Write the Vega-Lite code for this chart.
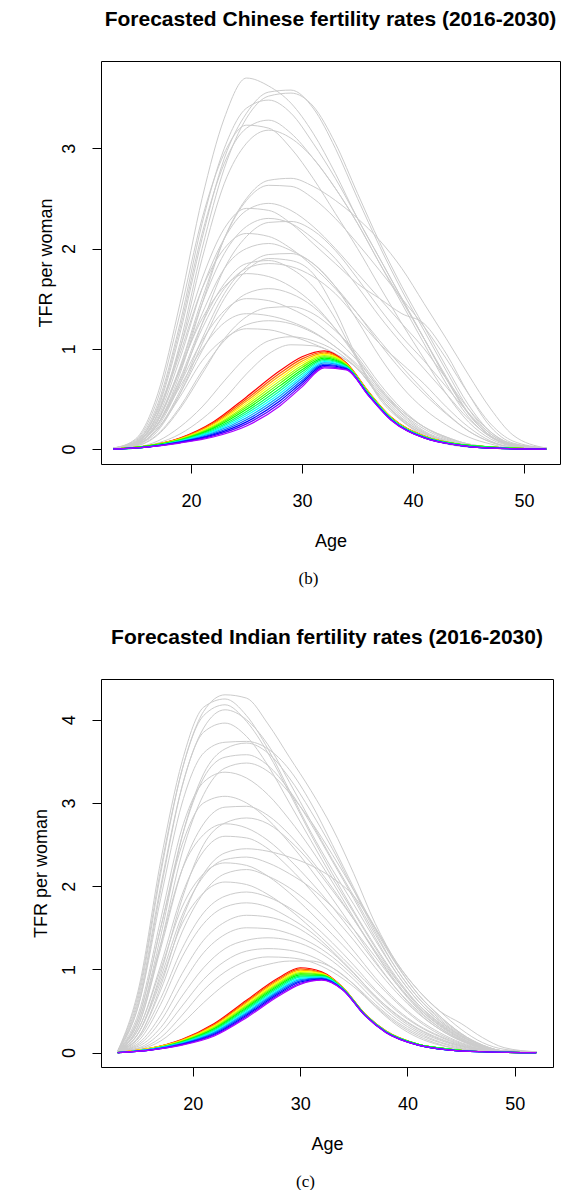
{"$schema":"https://vega.github.io/schema/vega-lite/v6.json","background":"white","padding":{"left":31,"top":8,"right":0,"bottom":0},"spacing":39,"columns":1,
"config":{"font":"Liberation Sans","view":{"stroke":"black","strokeWidth":1},
"axis":{"grid":false,"domain":false,"tickColor":"black","tickWidth":1,"tickSize":9,"labelFont":"Liberation Sans","labelFontSize":18,"labelColor":"black","labelFlush":false,"labelOverlap":false,"titleFont":"Liberation Sans","titleFontSize":18,"titleFontWeight":"normal","titleColor":"black"},
"axisX":{"labelPadding":19,"titlePadding":22,"labelAngle":0},
"axisY":{"labelAngle":-90,"labelAlign":"center","labelBaseline":"bottom","labelPadding":14,"titlePadding":5,"format":"d"},
"title":{"font":"Liberation Sans","fontSize":21,"fontWeight":"bold","color":"black"}},
"datasets":{
"cg":[
{"s":1,"a":13,"v":0.01},{"s":1,"a":15,"v":0.1},{"s":1,"a":17,"v":0.55},{"s":1,"a":19,"v":1.45},{"s":1,"a":21,"v":2.5},{"s":1,"a":23,"v":3.3},{"s":1,"a":25,"v":3.7},{"s":1,"a":27,"v":3.62},{"s":1,"a":29,"v":3.45},{"s":1,"a":31,"v":3.15},{"s":1,"a":33,"v":2.75},{"s":1,"a":35,"v":2.3},{"s":1,"a":37,"v":1.9},{"s":1,"a":39,"v":1.5},{"s":1,"a":41,"v":1.1},{"s":1,"a":43,"v":0.7},{"s":1,"a":45,"v":0.35},{"s":1,"a":47,"v":0.13},{"s":1,"a":49,"v":0.04},{"s":1,"a":52,"v":0.01},
{"s":2,"a":13,"v":0.01},{"s":2,"a":15,"v":0.07},{"s":2,"a":17,"v":0.4},{"s":2,"a":19,"v":1.15},{"s":2,"a":21,"v":2.1},{"s":2,"a":23,"v":2.9},{"s":2,"a":25,"v":3.35},{"s":2,"a":27,"v":3.56},{"s":2,"a":29,"v":3.58},{"s":2,"a":31,"v":3.4},{"s":2,"a":33,"v":3.0},{"s":2,"a":35,"v":2.5},{"s":2,"a":37,"v":2.02},{"s":2,"a":39,"v":1.58},{"s":2,"a":41,"v":1.18},{"s":2,"a":43,"v":0.78},{"s":2,"a":45,"v":0.4},{"s":2,"a":47,"v":0.15},{"s":2,"a":49,"v":0.05},{"s":2,"a":52,"v":0.01},
{"s":3,"a":13,"v":0.01},{"s":3,"a":15,"v":0.06},{"s":3,"a":17,"v":0.35},{"s":3,"a":19,"v":1.05},{"s":3,"a":21,"v":2.0},{"s":3,"a":23,"v":2.8},{"s":3,"a":25,"v":3.3},{"s":3,"a":27,"v":3.52},{"s":3,"a":29,"v":3.55},{"s":3,"a":31,"v":3.42},{"s":3,"a":33,"v":3.05},{"s":3,"a":35,"v":2.55},{"s":3,"a":37,"v":2.06},{"s":3,"a":39,"v":1.62},{"s":3,"a":41,"v":1.22},{"s":3,"a":43,"v":0.82},{"s":3,"a":45,"v":0.44},{"s":3,"a":47,"v":0.17},{"s":3,"a":49,"v":0.05},{"s":3,"a":52,"v":0.01},
{"s":4,"a":13,"v":0.01},{"s":4,"a":15,"v":0.08},{"s":4,"a":17,"v":0.45},{"s":4,"a":19,"v":1.25},{"s":4,"a":21,"v":2.25},{"s":4,"a":23,"v":3.0},{"s":4,"a":25,"v":3.4},{"s":4,"a":27,"v":3.48},{"s":4,"a":29,"v":3.35},{"s":4,"a":31,"v":3.05},{"s":4,"a":33,"v":2.7},{"s":4,"a":35,"v":2.3},{"s":4,"a":37,"v":1.9},{"s":4,"a":39,"v":1.5},{"s":4,"a":41,"v":1.1},{"s":4,"a":43,"v":0.7},{"s":4,"a":45,"v":0.35},{"s":4,"a":47,"v":0.13},{"s":4,"a":49,"v":0.04},{"s":4,"a":52,"v":0.01},
{"s":5,"a":13,"v":0.01},{"s":5,"a":15,"v":0.07},{"s":5,"a":17,"v":0.42},{"s":5,"a":19,"v":1.2},{"s":5,"a":21,"v":2.15},{"s":5,"a":23,"v":2.85},{"s":5,"a":25,"v":3.2},{"s":5,"a":27,"v":3.28},{"s":5,"a":29,"v":3.15},{"s":5,"a":31,"v":2.9},{"s":5,"a":33,"v":2.6},{"s":5,"a":35,"v":2.25},{"s":5,"a":37,"v":1.85},{"s":5,"a":39,"v":1.45},{"s":5,"a":41,"v":1.05},{"s":5,"a":43,"v":0.65},{"s":5,"a":45,"v":0.32},{"s":5,"a":47,"v":0.12},{"s":5,"a":49,"v":0.04},{"s":5,"a":52,"v":0.01},
{"s":6,"a":13,"v":0.01},{"s":6,"a":15,"v":0.09},{"s":6,"a":17,"v":0.5},{"s":6,"a":19,"v":1.35},{"s":6,"a":21,"v":2.3},{"s":6,"a":23,"v":2.95},{"s":6,"a":25,"v":3.23},{"s":6,"a":27,"v":3.2},{"s":6,"a":29,"v":3.0},{"s":6,"a":31,"v":2.7},{"s":6,"a":33,"v":2.35},{"s":6,"a":35,"v":2.0},{"s":6,"a":37,"v":1.62},{"s":6,"a":39,"v":1.25},{"s":6,"a":41,"v":0.9},{"s":6,"a":43,"v":0.55},{"s":6,"a":45,"v":0.27},{"s":6,"a":47,"v":0.1},{"s":6,"a":49,"v":0.03},{"s":6,"a":52,"v":0.01},
{"s":7,"a":13,"v":0.01},{"s":7,"a":15,"v":0.06},{"s":7,"a":17,"v":0.35},{"s":7,"a":19,"v":1.0},{"s":7,"a":21,"v":1.9},{"s":7,"a":23,"v":2.65},{"s":7,"a":25,"v":3.05},{"s":7,"a":27,"v":3.18},{"s":7,"a":29,"v":3.1},{"s":7,"a":31,"v":2.9},{"s":7,"a":33,"v":2.6},{"s":7,"a":35,"v":2.25},{"s":7,"a":37,"v":1.85},{"s":7,"a":39,"v":1.48},{"s":7,"a":41,"v":1.1},{"s":7,"a":43,"v":0.72},{"s":7,"a":45,"v":0.36},{"s":7,"a":47,"v":0.13},{"s":7,"a":49,"v":0.04},{"s":7,"a":52,"v":0.01},
{"s":8,"a":13,"v":0.01},{"s":8,"a":15,"v":0.05},{"s":8,"a":17,"v":0.25},{"s":8,"a":19,"v":0.75},{"s":8,"a":21,"v":1.45},{"s":8,"a":23,"v":2.1},{"s":8,"a":25,"v":2.5},{"s":8,"a":27,"v":2.68},{"s":8,"a":29,"v":2.7},{"s":8,"a":31,"v":2.62},{"s":8,"a":33,"v":2.48},{"s":8,"a":35,"v":2.3},{"s":8,"a":37,"v":2.08},{"s":8,"a":39,"v":1.8},{"s":8,"a":41,"v":1.45},{"s":8,"a":43,"v":1.1},{"s":8,"a":45,"v":0.74},{"s":8,"a":47,"v":0.4},{"s":8,"a":49,"v":0.14},{"s":8,"a":52,"v":0.01},
{"s":9,"a":13,"v":0.01},{"s":9,"a":15,"v":0.05},{"s":9,"a":17,"v":0.28},{"s":9,"a":19,"v":0.82},{"s":9,"a":21,"v":1.5},{"s":9,"a":23,"v":2.1},{"s":9,"a":25,"v":2.48},{"s":9,"a":27,"v":2.63},{"s":9,"a":29,"v":2.62},{"s":9,"a":31,"v":2.5},{"s":9,"a":33,"v":2.3},{"s":9,"a":35,"v":2.05},{"s":9,"a":37,"v":1.78},{"s":9,"a":39,"v":1.5},{"s":9,"a":41,"v":1.22},{"s":9,"a":43,"v":0.9},{"s":9,"a":45,"v":0.55},{"s":9,"a":47,"v":0.25},{"s":9,"a":49,"v":0.08},{"s":9,"a":52,"v":0.01},
{"s":10,"a":13,"v":0.01},{"s":10,"a":15,"v":0.06},{"s":10,"a":17,"v":0.32},{"s":10,"a":19,"v":0.9},{"s":10,"a":21,"v":1.6},{"s":10,"a":23,"v":2.1},{"s":10,"a":25,"v":2.38},{"s":10,"a":27,"v":2.45},{"s":10,"a":29,"v":2.38},{"s":10,"a":31,"v":2.22},{"s":10,"a":33,"v":2.0},{"s":10,"a":35,"v":1.75},{"s":10,"a":37,"v":1.5},{"s":10,"a":39,"v":1.25},{"s":10,"a":41,"v":1.0},{"s":10,"a":43,"v":0.7},{"s":10,"a":45,"v":0.4},{"s":10,"a":47,"v":0.17},{"s":10,"a":49,"v":0.05},{"s":10,"a":52,"v":0.01},
{"s":11,"a":13,"v":0.01},{"s":11,"a":15,"v":0.07},{"s":11,"a":17,"v":0.38},{"s":11,"a":19,"v":1.0},{"s":11,"a":21,"v":1.7},{"s":11,"a":23,"v":2.2},{"s":11,"a":25,"v":2.4},{"s":11,"a":27,"v":2.38},{"s":11,"a":29,"v":2.25},{"s":11,"a":31,"v":2.05},{"s":11,"a":33,"v":1.85},{"s":11,"a":35,"v":1.65},{"s":11,"a":37,"v":1.5},{"s":11,"a":39,"v":1.35},{"s":11,"a":41,"v":1.25},{"s":11,"a":43,"v":0.95},{"s":11,"a":45,"v":0.55},{"s":11,"a":47,"v":0.22},{"s":11,"a":49,"v":0.06},{"s":11,"a":52,"v":0.01},
{"s":12,"a":13,"v":0.01},{"s":12,"a":15,"v":0.05},{"s":12,"a":17,"v":0.28},{"s":12,"a":19,"v":0.8},{"s":12,"a":21,"v":1.45},{"s":12,"a":23,"v":1.95},{"s":12,"a":25,"v":2.22},{"s":12,"a":27,"v":2.3},{"s":12,"a":29,"v":2.25},{"s":12,"a":31,"v":2.1},{"s":12,"a":33,"v":1.9},{"s":12,"a":35,"v":1.62},{"s":12,"a":37,"v":1.32},{"s":12,"a":39,"v":1.05},{"s":12,"a":41,"v":0.8},{"s":12,"a":43,"v":0.55},{"s":12,"a":45,"v":0.3},{"s":12,"a":47,"v":0.12},{"s":12,"a":49,"v":0.03},{"s":12,"a":52,"v":0.01},
{"s":13,"a":13,"v":0.01},{"s":13,"a":15,"v":0.04},{"s":13,"a":17,"v":0.22},{"s":13,"a":19,"v":0.65},{"s":13,"a":21,"v":1.25},{"s":13,"a":23,"v":1.8},{"s":13,"a":25,"v":2.12},{"s":13,"a":27,"v":2.26},{"s":13,"a":29,"v":2.27},{"s":13,"a":31,"v":2.18},{"s":13,"a":33,"v":1.98},{"s":13,"a":35,"v":1.7},{"s":13,"a":37,"v":1.4},{"s":13,"a":39,"v":1.12},{"s":13,"a":41,"v":0.88},{"s":13,"a":43,"v":0.62},{"s":13,"a":45,"v":0.36},{"s":13,"a":47,"v":0.15},{"s":13,"a":49,"v":0.04},{"s":13,"a":52,"v":0.01},
{"s":14,"a":13,"v":0.01},{"s":14,"a":15,"v":0.06},{"s":14,"a":17,"v":0.35},{"s":14,"a":19,"v":0.95},{"s":14,"a":21,"v":1.6},{"s":14,"a":23,"v":2.0},{"s":14,"a":25,"v":2.15},{"s":14,"a":27,"v":2.12},{"s":14,"a":29,"v":2.0},{"s":14,"a":31,"v":1.82},{"s":14,"a":33,"v":1.6},{"s":14,"a":35,"v":1.35},{"s":14,"a":37,"v":1.08},{"s":14,"a":39,"v":0.82},{"s":14,"a":41,"v":0.58},{"s":14,"a":43,"v":0.36},{"s":14,"a":45,"v":0.18},{"s":14,"a":47,"v":0.07},{"s":14,"a":49,"v":0.02},{"s":14,"a":52,"v":0.01},
{"s":15,"a":13,"v":0.01},{"s":15,"a":15,"v":0.05},{"s":15,"a":17,"v":0.28},{"s":15,"a":19,"v":0.78},{"s":15,"a":21,"v":1.35},{"s":15,"a":23,"v":1.8},{"s":15,"a":25,"v":2.0},{"s":15,"a":27,"v":2.05},{"s":15,"a":29,"v":1.98},{"s":15,"a":31,"v":1.85},{"s":15,"a":33,"v":1.62},{"s":15,"a":35,"v":1.35},{"s":15,"a":37,"v":1.05},{"s":15,"a":39,"v":0.78},{"s":15,"a":41,"v":0.55},{"s":15,"a":43,"v":0.35},{"s":15,"a":45,"v":0.18},{"s":15,"a":47,"v":0.07},{"s":15,"a":49,"v":0.02},{"s":15,"a":52,"v":0.01},
{"s":16,"a":13,"v":0.01},{"s":16,"a":15,"v":0.04},{"s":16,"a":17,"v":0.2},{"s":16,"a":19,"v":0.58},{"s":16,"a":21,"v":1.1},{"s":16,"a":23,"v":1.55},{"s":16,"a":25,"v":1.82},{"s":16,"a":27,"v":1.94},{"s":16,"a":29,"v":1.95},{"s":16,"a":31,"v":1.85},{"s":16,"a":33,"v":1.62},{"s":16,"a":35,"v":1.28},{"s":16,"a":37,"v":0.92},{"s":16,"a":39,"v":0.62},{"s":16,"a":41,"v":0.4},{"s":16,"a":43,"v":0.24},{"s":16,"a":45,"v":0.12},{"s":16,"a":47,"v":0.05},{"s":16,"a":49,"v":0.01},{"s":16,"a":52,"v":0.01},
{"s":17,"a":13,"v":0.01},{"s":17,"a":15,"v":0.04},{"s":17,"a":17,"v":0.18},{"s":17,"a":19,"v":0.55},{"s":17,"a":21,"v":1.05},{"s":17,"a":23,"v":1.5},{"s":17,"a":25,"v":1.78},{"s":17,"a":27,"v":1.9},{"s":17,"a":29,"v":1.88},{"s":17,"a":31,"v":1.75},{"s":17,"a":33,"v":1.38},{"s":17,"a":35,"v":0.9},{"s":17,"a":37,"v":0.52},{"s":17,"a":39,"v":0.3},{"s":17,"a":41,"v":0.16},{"s":17,"a":43,"v":0.08},{"s":17,"a":45,"v":0.03},{"s":17,"a":47,"v":0.01},{"s":17,"a":49,"v":0},{"s":17,"a":52,"v":0},
{"s":18,"a":13,"v":0.01},{"s":18,"a":15,"v":0.05},{"s":18,"a":17,"v":0.25},{"s":18,"a":19,"v":0.7},{"s":18,"a":21,"v":1.25},{"s":18,"a":23,"v":1.65},{"s":18,"a":25,"v":1.85},{"s":18,"a":27,"v":1.88},{"s":18,"a":29,"v":1.8},{"s":18,"a":31,"v":1.62},{"s":18,"a":33,"v":1.3},{"s":18,"a":35,"v":0.88},{"s":18,"a":37,"v":0.5},{"s":18,"a":39,"v":0.28},{"s":18,"a":41,"v":0.15},{"s":18,"a":43,"v":0.07},{"s":18,"a":45,"v":0.03},{"s":18,"a":47,"v":0.01},{"s":18,"a":49,"v":0},{"s":18,"a":52,"v":0},
{"s":19,"a":13,"v":0.01},{"s":19,"a":15,"v":0.05},{"s":19,"a":17,"v":0.24},{"s":19,"a":19,"v":0.68},{"s":19,"a":21,"v":1.2},{"s":19,"a":23,"v":1.6},{"s":19,"a":25,"v":1.8},{"s":19,"a":27,"v":1.85},{"s":19,"a":29,"v":1.82},{"s":19,"a":31,"v":1.72},{"s":19,"a":33,"v":1.55},{"s":19,"a":35,"v":1.3},{"s":19,"a":37,"v":1.05},{"s":19,"a":39,"v":0.85},{"s":19,"a":41,"v":0.65},{"s":19,"a":43,"v":0.42},{"s":19,"a":45,"v":0.22},{"s":19,"a":47,"v":0.08},{"s":19,"a":49,"v":0.02},{"s":19,"a":52,"v":0.01},
{"s":20,"a":13,"v":0.01},{"s":20,"a":15,"v":0.06},{"s":20,"a":17,"v":0.3},{"s":20,"a":19,"v":0.8},{"s":20,"a":21,"v":1.3},{"s":20,"a":23,"v":1.62},{"s":20,"a":25,"v":1.75},{"s":20,"a":27,"v":1.72},{"s":20,"a":29,"v":1.62},{"s":20,"a":31,"v":1.45},{"s":20,"a":33,"v":1.2},{"s":20,"a":35,"v":0.9},{"s":20,"a":37,"v":0.6},{"s":20,"a":39,"v":0.38},{"s":20,"a":41,"v":0.22},{"s":20,"a":43,"v":0.12},{"s":20,"a":45,"v":0.05},{"s":20,"a":47,"v":0.02},{"s":20,"a":49,"v":0.01},{"s":20,"a":52,"v":0},
{"s":21,"a":13,"v":0.01},{"s":21,"a":15,"v":0.04},{"s":21,"a":17,"v":0.2},{"s":21,"a":19,"v":0.55},{"s":21,"a":21,"v":0.98},{"s":21,"a":23,"v":1.35},{"s":21,"a":25,"v":1.55},{"s":21,"a":27,"v":1.6},{"s":21,"a":29,"v":1.55},{"s":21,"a":31,"v":1.42},{"s":21,"a":33,"v":1.2},{"s":21,"a":35,"v":0.92},{"s":21,"a":37,"v":0.62},{"s":21,"a":39,"v":0.38},{"s":21,"a":41,"v":0.22},{"s":21,"a":43,"v":0.12},{"s":21,"a":45,"v":0.05},{"s":21,"a":47,"v":0.02},{"s":21,"a":49,"v":0.01},{"s":21,"a":52,"v":0},
{"s":22,"a":13,"v":0.01},{"s":22,"a":15,"v":0.05},{"s":22,"a":17,"v":0.25},{"s":22,"a":19,"v":0.65},{"s":22,"a":21,"v":1.08},{"s":22,"a":23,"v":1.38},{"s":22,"a":25,"v":1.5},{"s":22,"a":27,"v":1.48},{"s":22,"a":29,"v":1.4},{"s":22,"a":31,"v":1.28},{"s":22,"a":33,"v":1.1},{"s":22,"a":35,"v":0.88},{"s":22,"a":37,"v":0.6},{"s":22,"a":39,"v":0.36},{"s":22,"a":41,"v":0.2},{"s":22,"a":43,"v":0.1},{"s":22,"a":45,"v":0.04},{"s":22,"a":47,"v":0.01},{"s":22,"a":49,"v":0},{"s":22,"a":52,"v":0},
{"s":23,"a":13,"v":0.01},{"s":23,"a":15,"v":0.03},{"s":23,"a":17,"v":0.14},{"s":23,"a":19,"v":0.4},{"s":23,"a":21,"v":0.75},{"s":23,"a":23,"v":1.1},{"s":23,"a":25,"v":1.32},{"s":23,"a":27,"v":1.41},{"s":23,"a":29,"v":1.42},{"s":23,"a":31,"v":1.35},{"s":23,"a":33,"v":1.18},{"s":23,"a":35,"v":0.95},{"s":23,"a":37,"v":0.65},{"s":23,"a":39,"v":0.4},{"s":23,"a":41,"v":0.22},{"s":23,"a":43,"v":0.11},{"s":23,"a":45,"v":0.05},{"s":23,"a":47,"v":0.02},{"s":23,"a":49,"v":0},{"s":23,"a":52,"v":0},
{"s":24,"a":13,"v":0.01},{"s":24,"a":15,"v":0.05},{"s":24,"a":17,"v":0.25},{"s":24,"a":19,"v":0.62},{"s":24,"a":21,"v":1.0},{"s":24,"a":23,"v":1.26},{"s":24,"a":25,"v":1.35},{"s":24,"a":27,"v":1.33},{"s":24,"a":29,"v":1.27},{"s":24,"a":31,"v":1.17},{"s":24,"a":33,"v":1.02},{"s":24,"a":35,"v":0.84},{"s":24,"a":37,"v":0.58},{"s":24,"a":39,"v":0.35},{"s":24,"a":41,"v":0.18},{"s":24,"a":43,"v":0.09},{"s":24,"a":45,"v":0.04},{"s":24,"a":47,"v":0.01},{"s":24,"a":49,"v":0},{"s":24,"a":52,"v":0},
{"s":25,"a":13,"v":0.01},{"s":25,"a":15,"v":0.03},{"s":25,"a":17,"v":0.15},{"s":25,"a":19,"v":0.42},{"s":25,"a":21,"v":0.78},{"s":25,"a":23,"v":1.08},{"s":25,"a":25,"v":1.24},{"s":25,"a":27,"v":1.28},{"s":25,"a":29,"v":1.25},{"s":25,"a":31,"v":1.16},{"s":25,"a":33,"v":1.02},{"s":25,"a":35,"v":0.82},{"s":25,"a":37,"v":0.56},{"s":25,"a":39,"v":0.33},{"s":25,"a":41,"v":0.17},{"s":25,"a":43,"v":0.08},{"s":25,"a":45,"v":0.03},{"s":25,"a":47,"v":0.01},{"s":25,"a":49,"v":0},{"s":25,"a":52,"v":0},
{"s":26,"a":13,"v":0.01},{"s":26,"a":15,"v":0.04},{"s":26,"a":17,"v":0.2},{"s":26,"a":19,"v":0.52},{"s":26,"a":21,"v":0.88},{"s":26,"a":23,"v":1.1},{"s":26,"a":25,"v":1.2},{"s":26,"a":27,"v":1.19},{"s":26,"a":29,"v":1.13},{"s":26,"a":31,"v":1.05},{"s":26,"a":33,"v":0.95},{"s":26,"a":35,"v":0.8},{"s":26,"a":37,"v":0.54},{"s":26,"a":39,"v":0.31},{"s":26,"a":41,"v":0.16},{"s":26,"a":43,"v":0.07},{"s":26,"a":45,"v":0.03},{"s":26,"a":47,"v":0.01},{"s":26,"a":49,"v":0},{"s":26,"a":52,"v":0},
{"s":27,"a":13,"v":0.01},{"s":27,"a":15,"v":0.02},{"s":27,"a":17,"v":0.08},{"s":27,"a":19,"v":0.22},{"s":27,"a":21,"v":0.42},{"s":27,"a":23,"v":0.68},{"s":27,"a":25,"v":0.92},{"s":27,"a":27,"v":1.08},{"s":27,"a":29,"v":1.12},{"s":27,"a":31,"v":1.08},{"s":27,"a":33,"v":0.98},{"s":27,"a":35,"v":0.8},{"s":27,"a":37,"v":0.52},{"s":27,"a":39,"v":0.29},{"s":27,"a":41,"v":0.14},{"s":27,"a":43,"v":0.06},{"s":27,"a":45,"v":0.02},{"s":27,"a":47,"v":0.01},{"s":27,"a":49,"v":0},{"s":27,"a":52,"v":0},
{"s":28,"a":13,"v":0.01},{"s":28,"a":15,"v":0.02},{"s":28,"a":17,"v":0.06},{"s":28,"a":19,"v":0.15},{"s":28,"a":21,"v":0.3},{"s":28,"a":23,"v":0.5},{"s":28,"a":25,"v":0.75},{"s":28,"a":27,"v":0.95},{"s":28,"a":29,"v":1.04},{"s":28,"a":31,"v":1.03},{"s":28,"a":33,"v":0.95},{"s":28,"a":35,"v":0.8},{"s":28,"a":37,"v":0.52},{"s":28,"a":39,"v":0.28},{"s":28,"a":41,"v":0.13},{"s":28,"a":43,"v":0.05},{"s":28,"a":45,"v":0.02},{"s":28,"a":47,"v":0.01},{"s":28,"a":49,"v":0},{"s":28,"a":52,"v":0}
],
"cf":[
{"s":1,"a":13,"v":0},{"s":1,"a":16,"v":0.03},{"s":1,"a":19,"v":0.11},{"s":1,"a":22,"v":0.27},{"s":1,"a":25,"v":0.52},{"s":1,"a":28,"v":0.78},{"s":1,"a":30,"v":0.92},{"s":1,"a":32,"v":0.98},{"s":1,"a":34,"v":0.86},{"s":1,"a":36,"v":0.57},{"s":1,"a":38,"v":0.32},{"s":1,"a":41,"v":0.13},{"s":1,"a":44,"v":0.05},{"s":1,"a":47,"v":0.02},{"s":1,"a":52,"v":0},
{"s":2,"a":13,"v":0},{"s":2,"a":16,"v":0.03},{"s":2,"a":19,"v":0.106},{"s":2,"a":22,"v":0.259},{"s":2,"a":25,"v":0.499},{"s":2,"a":28,"v":0.755},{"s":2,"a":30,"v":0.899},{"s":2,"a":32,"v":0.968},{"s":2,"a":34,"v":0.855},{"s":2,"a":36,"v":0.567},{"s":2,"a":38,"v":0.318},{"s":2,"a":41,"v":0.129},{"s":2,"a":44,"v":0.05},{"s":2,"a":47,"v":0.02},{"s":2,"a":52,"v":0},
{"s":3,"a":13,"v":0},{"s":3,"a":16,"v":0.03},{"s":3,"a":19,"v":0.103},{"s":3,"a":22,"v":0.249},{"s":3,"a":25,"v":0.479},{"s":3,"a":28,"v":0.73},{"s":3,"a":30,"v":0.877},{"s":3,"a":32,"v":0.956},{"s":3,"a":34,"v":0.85},{"s":3,"a":36,"v":0.564},{"s":3,"a":38,"v":0.316},{"s":3,"a":41,"v":0.127},{"s":3,"a":44,"v":0.05},{"s":3,"a":47,"v":0.02},{"s":3,"a":52,"v":0},
{"s":4,"a":13,"v":0},{"s":4,"a":16,"v":0.03},{"s":4,"a":19,"v":0.099},{"s":4,"a":22,"v":0.238},{"s":4,"a":25,"v":0.458},{"s":4,"a":28,"v":0.705},{"s":4,"a":30,"v":0.856},{"s":4,"a":32,"v":0.944},{"s":4,"a":34,"v":0.845},{"s":4,"a":36,"v":0.561},{"s":4,"a":38,"v":0.314},{"s":4,"a":41,"v":0.126},{"s":4,"a":44,"v":0.05},{"s":4,"a":47,"v":0.02},{"s":4,"a":52,"v":0},
{"s":5,"a":13,"v":0},{"s":5,"a":16,"v":0.03},{"s":5,"a":19,"v":0.096},{"s":5,"a":22,"v":0.227},{"s":5,"a":25,"v":0.437},{"s":5,"a":28,"v":0.68},{"s":5,"a":30,"v":0.834},{"s":5,"a":32,"v":0.931},{"s":5,"a":34,"v":0.84},{"s":5,"a":36,"v":0.559},{"s":5,"a":38,"v":0.311},{"s":5,"a":41,"v":0.124},{"s":5,"a":44,"v":0.05},{"s":5,"a":47,"v":0.02},{"s":5,"a":52,"v":0},
{"s":6,"a":13,"v":0},{"s":6,"a":16,"v":0.03},{"s":6,"a":19,"v":0.092},{"s":6,"a":22,"v":0.216},{"s":6,"a":25,"v":0.416},{"s":6,"a":28,"v":0.655},{"s":6,"a":30,"v":0.813},{"s":6,"a":32,"v":0.919},{"s":6,"a":34,"v":0.835},{"s":6,"a":36,"v":0.556},{"s":6,"a":38,"v":0.309},{"s":6,"a":41,"v":0.123},{"s":6,"a":44,"v":0.05},{"s":6,"a":47,"v":0.02},{"s":6,"a":52,"v":0},
{"s":7,"a":13,"v":0},{"s":7,"a":16,"v":0.03},{"s":7,"a":19,"v":0.089},{"s":7,"a":22,"v":0.206},{"s":7,"a":25,"v":0.396},{"s":7,"a":28,"v":0.63},{"s":7,"a":30,"v":0.791},{"s":7,"a":32,"v":0.907},{"s":7,"a":34,"v":0.83},{"s":7,"a":36,"v":0.553},{"s":7,"a":38,"v":0.307},{"s":7,"a":41,"v":0.121},{"s":7,"a":44,"v":0.05},{"s":7,"a":47,"v":0.02},{"s":7,"a":52,"v":0},
{"s":8,"a":13,"v":0},{"s":8,"a":16,"v":0.02},{"s":8,"a":19,"v":0.085},{"s":8,"a":22,"v":0.195},{"s":8,"a":25,"v":0.375},{"s":8,"a":28,"v":0.605},{"s":8,"a":30,"v":0.77},{"s":8,"a":32,"v":0.895},{"s":8,"a":34,"v":0.825},{"s":8,"a":36,"v":0.55},{"s":8,"a":38,"v":0.305},{"s":8,"a":41,"v":0.12},{"s":8,"a":44,"v":0.05},{"s":8,"a":47,"v":0.02},{"s":8,"a":52,"v":0},
{"s":9,"a":13,"v":0},{"s":9,"a":16,"v":0.02},{"s":9,"a":19,"v":0.081},{"s":9,"a":22,"v":0.184},{"s":9,"a":25,"v":0.354},{"s":9,"a":28,"v":0.58},{"s":9,"a":30,"v":0.749},{"s":9,"a":32,"v":0.883},{"s":9,"a":34,"v":0.82},{"s":9,"a":36,"v":0.547},{"s":9,"a":38,"v":0.303},{"s":9,"a":41,"v":0.119},{"s":9,"a":44,"v":0.04},{"s":9,"a":47,"v":0.01},{"s":9,"a":52,"v":0},
{"s":10,"a":13,"v":0},{"s":10,"a":16,"v":0.02},{"s":10,"a":19,"v":0.078},{"s":10,"a":22,"v":0.174},{"s":10,"a":25,"v":0.334},{"s":10,"a":28,"v":0.555},{"s":10,"a":30,"v":0.727},{"s":10,"a":32,"v":0.871},{"s":10,"a":34,"v":0.815},{"s":10,"a":36,"v":0.544},{"s":10,"a":38,"v":0.301},{"s":10,"a":41,"v":0.117},{"s":10,"a":44,"v":0.04},{"s":10,"a":47,"v":0.01},{"s":10,"a":52,"v":0},
{"s":11,"a":13,"v":0},{"s":11,"a":16,"v":0.02},{"s":11,"a":19,"v":0.074},{"s":11,"a":22,"v":0.163},{"s":11,"a":25,"v":0.313},{"s":11,"a":28,"v":0.53},{"s":11,"a":30,"v":0.706},{"s":11,"a":32,"v":0.859},{"s":11,"a":34,"v":0.81},{"s":11,"a":36,"v":0.541},{"s":11,"a":38,"v":0.299},{"s":11,"a":41,"v":0.116},{"s":11,"a":44,"v":0.04},{"s":11,"a":47,"v":0.01},{"s":11,"a":52,"v":0},
{"s":12,"a":13,"v":0},{"s":12,"a":16,"v":0.02},{"s":12,"a":19,"v":0.071},{"s":12,"a":22,"v":0.152},{"s":12,"a":25,"v":0.292},{"s":12,"a":28,"v":0.505},{"s":12,"a":30,"v":0.684},{"s":12,"a":32,"v":0.846},{"s":12,"a":34,"v":0.805},{"s":12,"a":36,"v":0.539},{"s":12,"a":38,"v":0.296},{"s":12,"a":41,"v":0.114},{"s":12,"a":44,"v":0.04},{"s":12,"a":47,"v":0.01},{"s":12,"a":52,"v":0},
{"s":13,"a":13,"v":0},{"s":13,"a":16,"v":0.02},{"s":13,"a":19,"v":0.067},{"s":13,"a":22,"v":0.141},{"s":13,"a":25,"v":0.271},{"s":13,"a":28,"v":0.48},{"s":13,"a":30,"v":0.663},{"s":13,"a":32,"v":0.834},{"s":13,"a":34,"v":0.8},{"s":13,"a":36,"v":0.536},{"s":13,"a":38,"v":0.294},{"s":13,"a":41,"v":0.113},{"s":13,"a":44,"v":0.04},{"s":13,"a":47,"v":0.01},{"s":13,"a":52,"v":0},
{"s":14,"a":13,"v":0},{"s":14,"a":16,"v":0.02},{"s":14,"a":19,"v":0.064},{"s":14,"a":22,"v":0.131},{"s":14,"a":25,"v":0.251},{"s":14,"a":28,"v":0.455},{"s":14,"a":30,"v":0.641},{"s":14,"a":32,"v":0.822},{"s":14,"a":34,"v":0.795},{"s":14,"a":36,"v":0.533},{"s":14,"a":38,"v":0.292},{"s":14,"a":41,"v":0.111},{"s":14,"a":44,"v":0.04},{"s":14,"a":47,"v":0.01},{"s":14,"a":52,"v":0},
{"s":15,"a":13,"v":0},{"s":15,"a":16,"v":0.02},{"s":15,"a":19,"v":0.06},{"s":15,"a":22,"v":0.12},{"s":15,"a":25,"v":0.23},{"s":15,"a":28,"v":0.43},{"s":15,"a":30,"v":0.62},{"s":15,"a":32,"v":0.81},{"s":15,"a":34,"v":0.79},{"s":15,"a":36,"v":0.53},{"s":15,"a":38,"v":0.29},{"s":15,"a":41,"v":0.11},{"s":15,"a":44,"v":0.04},{"s":15,"a":47,"v":0.01},{"s":15,"a":52,"v":0}
],
"ig":[
{"s":1,"a":13,"v":0.02},{"s":1,"a":15,"v":0.75},{"s":1,"a":17,"v":2.2},{"s":1,"a":19,"v":3.4},{"s":1,"a":21,"v":4.1},{"s":1,"a":23,"v":4.3},{"s":1,"a":25,"v":4.26},{"s":1,"a":27,"v":3.95},{"s":1,"a":29,"v":3.55},{"s":1,"a":31,"v":3.15},{"s":1,"a":33,"v":2.7},{"s":1,"a":35,"v":2.15},{"s":1,"a":37,"v":1.55},{"s":1,"a":39,"v":1.08},{"s":1,"a":41,"v":0.75},{"s":1,"a":43,"v":0.5},{"s":1,"a":45,"v":0.28},{"s":1,"a":47,"v":0.12},{"s":1,"a":49,"v":0.04},{"s":1,"a":52,"v":0.01},
{"s":2,"a":13,"v":0.02},{"s":2,"a":15,"v":0.8},{"s":2,"a":17,"v":2.3},{"s":2,"a":19,"v":3.5},{"s":2,"a":21,"v":4.15},{"s":2,"a":23,"v":4.25},{"s":2,"a":25,"v":4.05},{"s":2,"a":27,"v":3.65},{"s":2,"a":29,"v":3.15},{"s":2,"a":31,"v":2.65},{"s":2,"a":33,"v":2.2},{"s":2,"a":35,"v":1.78},{"s":2,"a":37,"v":1.35},{"s":2,"a":39,"v":0.95},{"s":2,"a":41,"v":0.62},{"s":2,"a":43,"v":0.38},{"s":2,"a":45,"v":0.2},{"s":2,"a":47,"v":0.08},{"s":2,"a":49,"v":0.02},{"s":2,"a":52,"v":0.01},
{"s":3,"a":13,"v":0.02},{"s":3,"a":15,"v":0.7},{"s":3,"a":17,"v":2.15},{"s":3,"a":19,"v":3.4},{"s":3,"a":21,"v":4.05},{"s":3,"a":23,"v":4.18},{"s":3,"a":25,"v":3.98},{"s":3,"a":27,"v":3.6},{"s":3,"a":29,"v":3.12},{"s":3,"a":31,"v":2.62},{"s":3,"a":33,"v":2.15},{"s":3,"a":35,"v":1.7},{"s":3,"a":37,"v":1.28},{"s":3,"a":39,"v":0.9},{"s":3,"a":41,"v":0.58},{"s":3,"a":43,"v":0.35},{"s":3,"a":45,"v":0.18},{"s":3,"a":47,"v":0.07},{"s":3,"a":49,"v":0.02},{"s":3,"a":52,"v":0.01},
{"s":4,"a":13,"v":0.02},{"s":4,"a":15,"v":0.6},{"s":4,"a":17,"v":1.95},{"s":4,"a":19,"v":3.2},{"s":4,"a":21,"v":3.9},{"s":4,"a":23,"v":4.12},{"s":4,"a":25,"v":4.0},{"s":4,"a":27,"v":3.7},{"s":4,"a":29,"v":3.25},{"s":4,"a":31,"v":2.78},{"s":4,"a":33,"v":2.32},{"s":4,"a":35,"v":1.88},{"s":4,"a":37,"v":1.42},{"s":4,"a":39,"v":1.0},{"s":4,"a":41,"v":0.66},{"s":4,"a":43,"v":0.4},{"s":4,"a":45,"v":0.21},{"s":4,"a":47,"v":0.08},{"s":4,"a":49,"v":0.02},{"s":4,"a":52,"v":0.01},
{"s":5,"a":13,"v":0.02},{"s":5,"a":15,"v":0.65},{"s":5,"a":17,"v":2.0},{"s":5,"a":19,"v":3.2},{"s":5,"a":21,"v":3.85},{"s":5,"a":23,"v":3.96},{"s":5,"a":25,"v":3.8},{"s":5,"a":27,"v":3.45},{"s":5,"a":29,"v":3.0},{"s":5,"a":31,"v":2.55},{"s":5,"a":33,"v":2.1},{"s":5,"a":35,"v":1.68},{"s":5,"a":37,"v":1.26},{"s":5,"a":39,"v":0.88},{"s":5,"a":41,"v":0.56},{"s":5,"a":43,"v":0.34},{"s":5,"a":45,"v":0.17},{"s":5,"a":47,"v":0.07},{"s":5,"a":49,"v":0.02},{"s":5,"a":52,"v":0.01},
{"s":6,"a":13,"v":0.02},{"s":6,"a":15,"v":0.6},{"s":6,"a":17,"v":1.85},{"s":6,"a":19,"v":3.0},{"s":6,"a":21,"v":3.6},{"s":6,"a":23,"v":3.73},{"s":6,"a":25,"v":3.74},{"s":6,"a":27,"v":3.65},{"s":6,"a":29,"v":3.4},{"s":6,"a":31,"v":3.0},{"s":6,"a":33,"v":2.5},{"s":6,"a":35,"v":1.98},{"s":6,"a":37,"v":1.48},{"s":6,"a":39,"v":1.05},{"s":6,"a":41,"v":0.7},{"s":6,"a":43,"v":0.44},{"s":6,"a":45,"v":0.23},{"s":6,"a":47,"v":0.09},{"s":6,"a":49,"v":0.02},{"s":6,"a":52,"v":0.01},
{"s":7,"a":13,"v":0.02},{"s":7,"a":15,"v":0.4},{"s":7,"a":17,"v":1.4},{"s":7,"a":19,"v":2.6},{"s":7,"a":21,"v":3.35},{"s":7,"a":23,"v":3.65},{"s":7,"a":25,"v":3.72},{"s":7,"a":27,"v":3.6},{"s":7,"a":29,"v":3.3},{"s":7,"a":31,"v":2.9},{"s":7,"a":33,"v":2.45},{"s":7,"a":35,"v":1.95},{"s":7,"a":37,"v":1.45},{"s":7,"a":39,"v":1.0},{"s":7,"a":41,"v":0.66},{"s":7,"a":43,"v":0.42},{"s":7,"a":45,"v":0.22},{"s":7,"a":47,"v":0.09},{"s":7,"a":49,"v":0.02},{"s":7,"a":52,"v":0.01},
{"s":8,"a":13,"v":0.02},{"s":8,"a":15,"v":0.45},{"s":8,"a":17,"v":1.5},{"s":8,"a":19,"v":2.6},{"s":8,"a":21,"v":3.3},{"s":8,"a":23,"v":3.55},{"s":8,"a":25,"v":3.58},{"s":8,"a":27,"v":3.45},{"s":8,"a":29,"v":3.15},{"s":8,"a":31,"v":2.75},{"s":8,"a":33,"v":2.3},{"s":8,"a":35,"v":1.85},{"s":8,"a":37,"v":1.38},{"s":8,"a":39,"v":0.95},{"s":8,"a":41,"v":0.62},{"s":8,"a":43,"v":0.38},{"s":8,"a":45,"v":0.2},{"s":8,"a":47,"v":0.08},{"s":8,"a":49,"v":0.02},{"s":8,"a":52,"v":0.01},
{"s":9,"a":13,"v":0.02},{"s":9,"a":15,"v":0.35},{"s":9,"a":17,"v":1.3},{"s":9,"a":19,"v":2.4},{"s":9,"a":21,"v":3.1},{"s":9,"a":23,"v":3.42},{"s":9,"a":25,"v":3.48},{"s":9,"a":27,"v":3.38},{"s":9,"a":29,"v":3.12},{"s":9,"a":31,"v":2.78},{"s":9,"a":33,"v":2.38},{"s":9,"a":35,"v":1.95},{"s":9,"a":37,"v":1.5},{"s":9,"a":39,"v":1.06},{"s":9,"a":41,"v":0.7},{"s":9,"a":43,"v":0.44},{"s":9,"a":45,"v":0.23},{"s":9,"a":47,"v":0.09},{"s":9,"a":49,"v":0.02},{"s":9,"a":52,"v":0.01},
{"s":10,"a":13,"v":0.02},{"s":10,"a":15,"v":0.5},{"s":10,"a":17,"v":1.6},{"s":10,"a":19,"v":2.7},{"s":10,"a":21,"v":3.25},{"s":10,"a":23,"v":3.37},{"s":10,"a":25,"v":3.3},{"s":10,"a":27,"v":3.1},{"s":10,"a":29,"v":2.8},{"s":10,"a":31,"v":2.45},{"s":10,"a":33,"v":2.05},{"s":10,"a":35,"v":1.62},{"s":10,"a":37,"v":1.2},{"s":10,"a":39,"v":0.82},{"s":10,"a":41,"v":0.52},{"s":10,"a":43,"v":0.3},{"s":10,"a":45,"v":0.15},{"s":10,"a":47,"v":0.06},{"s":10,"a":49,"v":0.02},{"s":10,"a":52,"v":0.01},
{"s":11,"a":13,"v":0.02},{"s":11,"a":15,"v":0.45},{"s":11,"a":17,"v":1.5},{"s":11,"a":19,"v":2.5},{"s":11,"a":21,"v":3.0},{"s":11,"a":23,"v":3.08},{"s":11,"a":25,"v":3.0},{"s":11,"a":27,"v":2.8},{"s":11,"a":29,"v":2.52},{"s":11,"a":31,"v":2.2},{"s":11,"a":33,"v":1.85},{"s":11,"a":35,"v":1.48},{"s":11,"a":37,"v":1.1},{"s":11,"a":39,"v":0.76},{"s":11,"a":41,"v":0.48},{"s":11,"a":43,"v":0.28},{"s":11,"a":45,"v":0.14},{"s":11,"a":47,"v":0.05},{"s":11,"a":49,"v":0.01},{"s":11,"a":52,"v":0.01},
{"s":12,"a":13,"v":0.02},{"s":12,"a":15,"v":0.35},{"s":12,"a":17,"v":1.25},{"s":12,"a":19,"v":2.2},{"s":12,"a":21,"v":2.75},{"s":12,"a":23,"v":2.95},{"s":12,"a":25,"v":2.96},{"s":12,"a":27,"v":2.85},{"s":12,"a":29,"v":2.62},{"s":12,"a":31,"v":2.32},{"s":12,"a":33,"v":1.98},{"s":12,"a":35,"v":1.6},{"s":12,"a":37,"v":1.2},{"s":12,"a":39,"v":0.84},{"s":12,"a":41,"v":0.54},{"s":12,"a":43,"v":0.32},{"s":12,"a":45,"v":0.16},{"s":12,"a":47,"v":0.06},{"s":12,"a":49,"v":0.02},{"s":12,"a":52,"v":0.01},
{"s":13,"a":13,"v":0.02},{"s":13,"a":15,"v":0.25},{"s":13,"a":17,"v":0.95},{"s":13,"a":19,"v":1.85},{"s":13,"a":21,"v":2.5},{"s":13,"a":23,"v":2.76},{"s":13,"a":25,"v":2.82},{"s":13,"a":27,"v":2.75},{"s":13,"a":29,"v":2.55},{"s":13,"a":31,"v":2.28},{"s":13,"a":33,"v":1.95},{"s":13,"a":35,"v":1.6},{"s":13,"a":37,"v":1.22},{"s":13,"a":39,"v":0.87},{"s":13,"a":41,"v":0.58},{"s":13,"a":43,"v":0.36},{"s":13,"a":45,"v":0.19},{"s":13,"a":47,"v":0.08},{"s":13,"a":49,"v":0.02},{"s":13,"a":52,"v":0.01},
{"s":14,"a":13,"v":0.02},{"s":14,"a":15,"v":0.4},{"s":14,"a":17,"v":1.3},{"s":14,"a":19,"v":2.2},{"s":14,"a":21,"v":2.62},{"s":14,"a":23,"v":2.75},{"s":14,"a":25,"v":2.7},{"s":14,"a":27,"v":2.55},{"s":14,"a":29,"v":2.32},{"s":14,"a":31,"v":2.05},{"s":14,"a":33,"v":1.75},{"s":14,"a":35,"v":1.42},{"s":14,"a":37,"v":1.08},{"s":14,"a":39,"v":0.76},{"s":14,"a":41,"v":0.5},{"s":14,"a":43,"v":0.3},{"s":14,"a":45,"v":0.15},{"s":14,"a":47,"v":0.06},{"s":14,"a":49,"v":0.02},{"s":14,"a":52,"v":0.01},
{"s":15,"a":13,"v":0.02},{"s":15,"a":15,"v":0.3},{"s":15,"a":17,"v":1.05},{"s":15,"a":19,"v":1.9},{"s":15,"a":21,"v":2.42},{"s":15,"a":23,"v":2.6},{"s":15,"a":25,"v":2.58},{"s":15,"a":27,"v":2.45},{"s":15,"a":29,"v":2.22},{"s":15,"a":31,"v":1.95},{"s":15,"a":33,"v":1.65},{"s":15,"a":35,"v":1.35},{"s":15,"a":37,"v":1.02},{"s":15,"a":39,"v":0.72},{"s":15,"a":41,"v":0.47},{"s":15,"a":43,"v":0.28},{"s":15,"a":45,"v":0.14},{"s":15,"a":47,"v":0.06},{"s":15,"a":49,"v":0.01},{"s":15,"a":52,"v":0.01},
{"s":16,"a":13,"v":0.02},{"s":16,"a":15,"v":0.2},{"s":16,"a":17,"v":0.8},{"s":16,"a":19,"v":1.6},{"s":16,"a":21,"v":2.15},{"s":16,"a":23,"v":2.4},{"s":16,"a":25,"v":2.45},{"s":16,"a":27,"v":2.42},{"s":16,"a":29,"v":2.35},{"s":16,"a":31,"v":2.25},{"s":16,"a":33,"v":2.1},{"s":16,"a":35,"v":1.88},{"s":16,"a":37,"v":1.5},{"s":16,"a":39,"v":1.08},{"s":16,"a":41,"v":0.75},{"s":16,"a":43,"v":0.5},{"s":16,"a":45,"v":0.35},{"s":16,"a":47,"v":0.18},{"s":16,"a":49,"v":0.06},{"s":16,"a":52,"v":0.01},
{"s":17,"a":13,"v":0.02},{"s":17,"a":15,"v":0.25},{"s":17,"a":17,"v":0.9},{"s":17,"a":19,"v":1.65},{"s":17,"a":21,"v":2.12},{"s":17,"a":23,"v":2.32},{"s":17,"a":25,"v":2.35},{"s":17,"a":27,"v":2.28},{"s":17,"a":29,"v":2.15},{"s":17,"a":31,"v":1.98},{"s":17,"a":33,"v":1.75},{"s":17,"a":35,"v":1.48},{"s":17,"a":37,"v":1.15},{"s":17,"a":39,"v":0.82},{"s":17,"a":41,"v":0.54},{"s":17,"a":43,"v":0.33},{"s":17,"a":45,"v":0.17},{"s":17,"a":47,"v":0.06},{"s":17,"a":49,"v":0.02},{"s":17,"a":52,"v":0.01},
{"s":18,"a":13,"v":0.02},{"s":18,"a":15,"v":0.3},{"s":18,"a":17,"v":1.0},{"s":18,"a":19,"v":1.75},{"s":18,"a":21,"v":2.15},{"s":18,"a":23,"v":2.28},{"s":18,"a":25,"v":2.25},{"s":18,"a":27,"v":2.12},{"s":18,"a":29,"v":1.92},{"s":18,"a":31,"v":1.68},{"s":18,"a":33,"v":1.42},{"s":18,"a":35,"v":1.15},{"s":18,"a":37,"v":0.86},{"s":18,"a":39,"v":0.6},{"s":18,"a":41,"v":0.38},{"s":18,"a":43,"v":0.22},{"s":18,"a":45,"v":0.11},{"s":18,"a":47,"v":0.04},{"s":18,"a":49,"v":0.01},{"s":18,"a":52,"v":0.01},
{"s":19,"a":13,"v":0.02},{"s":19,"a":15,"v":0.2},{"s":19,"a":17,"v":0.75},{"s":19,"a":19,"v":1.45},{"s":19,"a":21,"v":1.92},{"s":19,"a":23,"v":2.15},{"s":19,"a":25,"v":2.2},{"s":19,"a":27,"v":2.12},{"s":19,"a":29,"v":1.98},{"s":19,"a":31,"v":1.78},{"s":19,"a":33,"v":1.52},{"s":19,"a":35,"v":1.22},{"s":19,"a":37,"v":0.9},{"s":19,"a":39,"v":0.62},{"s":19,"a":41,"v":0.4},{"s":19,"a":43,"v":0.24},{"s":19,"a":45,"v":0.12},{"s":19,"a":47,"v":0.05},{"s":19,"a":49,"v":0.01},{"s":19,"a":52,"v":0.01},
{"s":20,"a":13,"v":0.02},{"s":20,"a":15,"v":0.25},{"s":20,"a":17,"v":0.85},{"s":20,"a":19,"v":1.55},{"s":20,"a":21,"v":1.92},{"s":20,"a":23,"v":2.05},{"s":20,"a":25,"v":2.02},{"s":20,"a":27,"v":1.9},{"s":20,"a":29,"v":1.72},{"s":20,"a":31,"v":1.5},{"s":20,"a":33,"v":1.26},{"s":20,"a":35,"v":1.0},{"s":20,"a":37,"v":0.74},{"s":20,"a":39,"v":0.5},{"s":20,"a":41,"v":0.32},{"s":20,"a":43,"v":0.19},{"s":20,"a":45,"v":0.09},{"s":20,"a":47,"v":0.04},{"s":20,"a":49,"v":0.01},{"s":20,"a":52,"v":0.01},
{"s":21,"a":13,"v":0.02},{"s":21,"a":15,"v":0.18},{"s":21,"a":17,"v":0.65},{"s":21,"a":19,"v":1.25},{"s":21,"a":21,"v":1.68},{"s":21,"a":23,"v":1.88},{"s":21,"a":25,"v":1.93},{"s":21,"a":27,"v":1.87},{"s":21,"a":29,"v":1.74},{"s":21,"a":31,"v":1.56},{"s":21,"a":33,"v":1.32},{"s":21,"a":35,"v":1.05},{"s":21,"a":37,"v":0.76},{"s":21,"a":39,"v":0.52},{"s":21,"a":41,"v":0.33},{"s":21,"a":43,"v":0.2},{"s":21,"a":45,"v":0.1},{"s":21,"a":47,"v":0.04},{"s":21,"a":49,"v":0.01},{"s":21,"a":52,"v":0.01},
{"s":22,"a":13,"v":0.02},{"s":22,"a":15,"v":0.15},{"s":22,"a":17,"v":0.58},{"s":22,"a":19,"v":1.15},{"s":22,"a":21,"v":1.55},{"s":22,"a":23,"v":1.75},{"s":22,"a":25,"v":1.8},{"s":22,"a":27,"v":1.75},{"s":22,"a":29,"v":1.62},{"s":22,"a":31,"v":1.45},{"s":22,"a":33,"v":1.22},{"s":22,"a":35,"v":0.96},{"s":22,"a":37,"v":0.68},{"s":22,"a":39,"v":0.46},{"s":22,"a":41,"v":0.29},{"s":22,"a":43,"v":0.17},{"s":22,"a":45,"v":0.08},{"s":22,"a":47,"v":0.03},{"s":22,"a":49,"v":0.01},{"s":22,"a":52,"v":0.01},
{"s":23,"a":13,"v":0.02},{"s":23,"a":15,"v":0.12},{"s":23,"a":17,"v":0.45},{"s":23,"a":19,"v":0.95},{"s":23,"a":21,"v":1.35},{"s":23,"a":23,"v":1.57},{"s":23,"a":25,"v":1.65},{"s":23,"a":27,"v":1.63},{"s":23,"a":29,"v":1.55},{"s":23,"a":31,"v":1.4},{"s":23,"a":33,"v":1.2},{"s":23,"a":35,"v":0.95},{"s":23,"a":37,"v":0.68},{"s":23,"a":39,"v":0.45},{"s":23,"a":41,"v":0.28},{"s":23,"a":43,"v":0.16},{"s":23,"a":45,"v":0.08},{"s":23,"a":47,"v":0.03},{"s":23,"a":49,"v":0.01},{"s":23,"a":52,"v":0.01},
{"s":24,"a":13,"v":0.02},{"s":24,"a":15,"v":0.1},{"s":24,"a":17,"v":0.38},{"s":24,"a":19,"v":0.82},{"s":24,"a":21,"v":1.2},{"s":24,"a":23,"v":1.42},{"s":24,"a":25,"v":1.5},{"s":24,"a":27,"v":1.49},{"s":24,"a":29,"v":1.43},{"s":24,"a":31,"v":1.32},{"s":24,"a":33,"v":1.15},{"s":24,"a":35,"v":0.92},{"s":24,"a":37,"v":0.66},{"s":24,"a":39,"v":0.43},{"s":24,"a":41,"v":0.26},{"s":24,"a":43,"v":0.15},{"s":24,"a":45,"v":0.07},{"s":24,"a":47,"v":0.03},{"s":24,"a":49,"v":0.01},{"s":24,"a":52,"v":0.01},
{"s":25,"a":13,"v":0.02},{"s":25,"a":15,"v":0.08},{"s":25,"a":17,"v":0.3},{"s":25,"a":19,"v":0.68},{"s":25,"a":21,"v":1.02},{"s":25,"a":23,"v":1.25},{"s":25,"a":25,"v":1.35},{"s":25,"a":27,"v":1.38},{"s":25,"a":29,"v":1.35},{"s":25,"a":31,"v":1.26},{"s":25,"a":33,"v":1.1},{"s":25,"a":35,"v":0.88},{"s":25,"a":37,"v":0.62},{"s":25,"a":39,"v":0.4},{"s":25,"a":41,"v":0.24},{"s":25,"a":43,"v":0.13},{"s":25,"a":45,"v":0.06},{"s":25,"a":47,"v":0.02},{"s":25,"a":49,"v":0.01},{"s":25,"a":52,"v":0.01},
{"s":26,"a":13,"v":0.02},{"s":26,"a":15,"v":0.06},{"s":26,"a":17,"v":0.24},{"s":26,"a":19,"v":0.56},{"s":26,"a":21,"v":0.88},{"s":26,"a":23,"v":1.1},{"s":26,"a":25,"v":1.22},{"s":26,"a":27,"v":1.25},{"s":26,"a":29,"v":1.23},{"s":26,"a":31,"v":1.16},{"s":26,"a":33,"v":1.02},{"s":26,"a":35,"v":0.82},{"s":26,"a":37,"v":0.58},{"s":26,"a":39,"v":0.37},{"s":26,"a":41,"v":0.22},{"s":26,"a":43,"v":0.12},{"s":26,"a":45,"v":0.05},{"s":26,"a":47,"v":0.02},{"s":26,"a":49,"v":0.01},{"s":26,"a":52,"v":0.01},
{"s":27,"a":13,"v":0.02},{"s":27,"a":15,"v":0.05},{"s":27,"a":17,"v":0.18},{"s":27,"a":19,"v":0.45},{"s":27,"a":21,"v":0.75},{"s":27,"a":23,"v":0.97},{"s":27,"a":25,"v":1.1},{"s":27,"a":27,"v":1.15},{"s":27,"a":29,"v":1.14},{"s":27,"a":31,"v":1.09},{"s":27,"a":33,"v":0.97},{"s":27,"a":35,"v":0.79},{"s":27,"a":37,"v":0.56},{"s":27,"a":39,"v":0.35},{"s":27,"a":41,"v":0.2},{"s":27,"a":43,"v":0.1},{"s":27,"a":45,"v":0.04},{"s":27,"a":47,"v":0.02},{"s":27,"a":49,"v":0.01},{"s":27,"a":52,"v":0.01},
{"s":28,"a":13,"v":0.02},{"s":28,"a":15,"v":0.04},{"s":28,"a":17,"v":0.14},{"s":28,"a":19,"v":0.35},{"s":28,"a":21,"v":0.6},{"s":28,"a":23,"v":0.82},{"s":28,"a":25,"v":0.98},{"s":28,"a":27,"v":1.06},{"s":28,"a":29,"v":1.1},{"s":28,"a":31,"v":1.1},{"s":28,"a":33,"v":1.02},{"s":28,"a":35,"v":0.82},{"s":28,"a":37,"v":0.55},{"s":28,"a":39,"v":0.33},{"s":28,"a":41,"v":0.18},{"s":28,"a":43,"v":0.09},{"s":28,"a":45,"v":0.04},{"s":28,"a":47,"v":0.02},{"s":28,"a":49,"v":0.01},{"s":28,"a":52,"v":0.01}
],
"ifc":[
{"s":1,"a":13,"v":0},{"s":1,"a":16,"v":0.05},{"s":1,"a":19,"v":0.16},{"s":1,"a":22,"v":0.35},{"s":1,"a":25,"v":0.63},{"s":1,"a":28,"v":0.9},{"s":1,"a":30,"v":1.02},{"s":1,"a":32,"v":0.97},{"s":1,"a":34,"v":0.78},{"s":1,"a":36,"v":0.47},{"s":1,"a":38,"v":0.26},{"s":1,"a":41,"v":0.1},{"s":1,"a":44,"v":0.04},{"s":1,"a":47,"v":0.01},{"s":1,"a":52,"v":0},
{"s":2,"a":13,"v":0},{"s":2,"a":16,"v":0.05},{"s":2,"a":19,"v":0.155},{"s":2,"a":22,"v":0.339},{"s":2,"a":25,"v":0.615},{"s":2,"a":28,"v":0.884},{"s":2,"a":30,"v":1.006},{"s":2,"a":32,"v":0.963},{"s":2,"a":34,"v":0.778},{"s":2,"a":36,"v":0.469},{"s":2,"a":38,"v":0.259},{"s":2,"a":41,"v":0.1},{"s":2,"a":44,"v":0.04},{"s":2,"a":47,"v":0.01},{"s":2,"a":52,"v":0},
{"s":3,"a":13,"v":0},{"s":3,"a":16,"v":0.05},{"s":3,"a":19,"v":0.15},{"s":3,"a":22,"v":0.329},{"s":3,"a":25,"v":0.6},{"s":3,"a":28,"v":0.869},{"s":3,"a":30,"v":0.991},{"s":3,"a":32,"v":0.956},{"s":3,"a":34,"v":0.776},{"s":3,"a":36,"v":0.467},{"s":3,"a":38,"v":0.257},{"s":3,"a":41,"v":0.1},{"s":3,"a":44,"v":0.04},{"s":3,"a":47,"v":0.01},{"s":3,"a":52,"v":0},
{"s":4,"a":13,"v":0},{"s":4,"a":16,"v":0.05},{"s":4,"a":19,"v":0.145},{"s":4,"a":22,"v":0.318},{"s":4,"a":25,"v":0.585},{"s":4,"a":28,"v":0.853},{"s":4,"a":30,"v":0.977},{"s":4,"a":32,"v":0.949},{"s":4,"a":34,"v":0.774},{"s":4,"a":36,"v":0.466},{"s":4,"a":38,"v":0.256},{"s":4,"a":41,"v":0.1},{"s":4,"a":44,"v":0.04},{"s":4,"a":47,"v":0.01},{"s":4,"a":52,"v":0},
{"s":5,"a":13,"v":0},{"s":5,"a":16,"v":0.04},{"s":5,"a":19,"v":0.14},{"s":5,"a":22,"v":0.307},{"s":5,"a":25,"v":0.57},{"s":5,"a":28,"v":0.837},{"s":5,"a":30,"v":0.963},{"s":5,"a":32,"v":0.941},{"s":5,"a":34,"v":0.771},{"s":5,"a":36,"v":0.464},{"s":5,"a":38,"v":0.254},{"s":5,"a":41,"v":0.1},{"s":5,"a":44,"v":0.04},{"s":5,"a":47,"v":0.01},{"s":5,"a":52,"v":0},
{"s":6,"a":13,"v":0},{"s":6,"a":16,"v":0.04},{"s":6,"a":19,"v":0.135},{"s":6,"a":22,"v":0.296},{"s":6,"a":25,"v":0.555},{"s":6,"a":28,"v":0.821},{"s":6,"a":30,"v":0.949},{"s":6,"a":32,"v":0.934},{"s":6,"a":34,"v":0.769},{"s":6,"a":36,"v":0.463},{"s":6,"a":38,"v":0.253},{"s":6,"a":41,"v":0.1},{"s":6,"a":44,"v":0.04},{"s":6,"a":47,"v":0.01},{"s":6,"a":52,"v":0},
{"s":7,"a":13,"v":0},{"s":7,"a":16,"v":0.04},{"s":7,"a":19,"v":0.13},{"s":7,"a":22,"v":0.286},{"s":7,"a":25,"v":0.54},{"s":7,"a":28,"v":0.806},{"s":7,"a":30,"v":0.934},{"s":7,"a":32,"v":0.927},{"s":7,"a":34,"v":0.767},{"s":7,"a":36,"v":0.461},{"s":7,"a":38,"v":0.251},{"s":7,"a":41,"v":0.1},{"s":7,"a":44,"v":0.04},{"s":7,"a":47,"v":0.01},{"s":7,"a":52,"v":0},
{"s":8,"a":13,"v":0},{"s":8,"a":16,"v":0.04},{"s":8,"a":19,"v":0.125},{"s":8,"a":22,"v":0.275},{"s":8,"a":25,"v":0.525},{"s":8,"a":28,"v":0.79},{"s":8,"a":30,"v":0.92},{"s":8,"a":32,"v":0.92},{"s":8,"a":34,"v":0.765},{"s":8,"a":36,"v":0.46},{"s":8,"a":38,"v":0.25},{"s":8,"a":41,"v":0.1},{"s":8,"a":44,"v":0.04},{"s":8,"a":47,"v":0.01},{"s":8,"a":52,"v":0},
{"s":9,"a":13,"v":0},{"s":9,"a":16,"v":0.04},{"s":9,"a":19,"v":0.12},{"s":9,"a":22,"v":0.264},{"s":9,"a":25,"v":0.51},{"s":9,"a":28,"v":0.774},{"s":9,"a":30,"v":0.906},{"s":9,"a":32,"v":0.913},{"s":9,"a":34,"v":0.763},{"s":9,"a":36,"v":0.459},{"s":9,"a":38,"v":0.249},{"s":9,"a":41,"v":0.09},{"s":9,"a":44,"v":0.03},{"s":9,"a":47,"v":0.01},{"s":9,"a":52,"v":0},
{"s":10,"a":13,"v":0},{"s":10,"a":16,"v":0.04},{"s":10,"a":19,"v":0.115},{"s":10,"a":22,"v":0.254},{"s":10,"a":25,"v":0.495},{"s":10,"a":28,"v":0.759},{"s":10,"a":30,"v":0.891},{"s":10,"a":32,"v":0.906},{"s":10,"a":34,"v":0.761},{"s":10,"a":36,"v":0.457},{"s":10,"a":38,"v":0.247},{"s":10,"a":41,"v":0.09},{"s":10,"a":44,"v":0.03},{"s":10,"a":47,"v":0.01},{"s":10,"a":52,"v":0},
{"s":11,"a":13,"v":0},{"s":11,"a":16,"v":0.04},{"s":11,"a":19,"v":0.11},{"s":11,"a":22,"v":0.243},{"s":11,"a":25,"v":0.48},{"s":11,"a":28,"v":0.743},{"s":11,"a":30,"v":0.877},{"s":11,"a":32,"v":0.899},{"s":11,"a":34,"v":0.759},{"s":11,"a":36,"v":0.456},{"s":11,"a":38,"v":0.246},{"s":11,"a":41,"v":0.09},{"s":11,"a":44,"v":0.03},{"s":11,"a":47,"v":0.01},{"s":11,"a":52,"v":0},
{"s":12,"a":13,"v":0},{"s":12,"a":16,"v":0.03},{"s":12,"a":19,"v":0.105},{"s":12,"a":22,"v":0.232},{"s":12,"a":25,"v":0.465},{"s":12,"a":28,"v":0.727},{"s":12,"a":30,"v":0.863},{"s":12,"a":32,"v":0.891},{"s":12,"a":34,"v":0.756},{"s":12,"a":36,"v":0.454},{"s":12,"a":38,"v":0.244},{"s":12,"a":41,"v":0.09},{"s":12,"a":44,"v":0.03},{"s":12,"a":47,"v":0.01},{"s":12,"a":52,"v":0},
{"s":13,"a":13,"v":0},{"s":13,"a":16,"v":0.03},{"s":13,"a":19,"v":0.1},{"s":13,"a":22,"v":0.221},{"s":13,"a":25,"v":0.45},{"s":13,"a":28,"v":0.711},{"s":13,"a":30,"v":0.849},{"s":13,"a":32,"v":0.884},{"s":13,"a":34,"v":0.754},{"s":13,"a":36,"v":0.453},{"s":13,"a":38,"v":0.243},{"s":13,"a":41,"v":0.09},{"s":13,"a":44,"v":0.03},{"s":13,"a":47,"v":0.01},{"s":13,"a":52,"v":0},
{"s":14,"a":13,"v":0},{"s":14,"a":16,"v":0.03},{"s":14,"a":19,"v":0.095},{"s":14,"a":22,"v":0.211},{"s":14,"a":25,"v":0.435},{"s":14,"a":28,"v":0.696},{"s":14,"a":30,"v":0.834},{"s":14,"a":32,"v":0.877},{"s":14,"a":34,"v":0.752},{"s":14,"a":36,"v":0.451},{"s":14,"a":38,"v":0.241},{"s":14,"a":41,"v":0.09},{"s":14,"a":44,"v":0.03},{"s":14,"a":47,"v":0.01},{"s":14,"a":52,"v":0},
{"s":15,"a":13,"v":0},{"s":15,"a":16,"v":0.03},{"s":15,"a":19,"v":0.09},{"s":15,"a":22,"v":0.2},{"s":15,"a":25,"v":0.42},{"s":15,"a":28,"v":0.68},{"s":15,"a":30,"v":0.82},{"s":15,"a":32,"v":0.87},{"s":15,"a":34,"v":0.75},{"s":15,"a":36,"v":0.45},{"s":15,"a":38,"v":0.24},{"s":15,"a":41,"v":0.09},{"s":15,"a":44,"v":0.03},{"s":15,"a":47,"v":0.01},{"s":15,"a":52,"v":0}
]},
"concat":[
{"title":{"text":"(b)","orient":"bottom","anchor":"middle","font":"Liberation Serif","fontSize":17,"fontWeight":"normal","offset":20,"dx":10},
 "vconcat":[{
  "title":{"text":"Forecasted Chinese fertility rates (2016-2030)","anchor":"middle","offset":31},
  "width":459,"height":403,
  "layer":[
   {"data":{"name":"cg"},"mark":{"type":"line","color":"#cccccc","strokeWidth":1,"interpolate":"monotone"},
    "encoding":{"x":{"field":"a","type":"quantitative","scale":{"domain":[11.89,53.24],"nice":false,"zero":false},"axis":{"values":[20,30,40,50],"title":"Age"}},
     "y":{"field":"v","type":"quantitative","scale":{"domain":[-0.149,3.87],"nice":false,"zero":false},"axis":{"values":[0,1,2,3],"title":"TFR per woman"}},
     "detail":{"field":"s","type":"nominal"}}},
   {"data":{"name":"cf"},"mark":{"type":"line","strokeWidth":1.2,"interpolate":"monotone"},
    "encoding":{"x":{"field":"a","type":"quantitative"},"y":{"field":"v","type":"quantitative"},
     "color":{"field":"s","type":"ordinal","scale":{"domain":[1,2,3,4,5,6,7,8,9,10,11,12,13,14,15],"range":["#ff0000","#ff5500","#ffaa00","#ffff00","#aaff00","#55ff00","#00ff00","#00ff55","#00ffaa","#00ffff","#00aaff","#0055ff","#0000ff","#5500ff","#aa00ff"]},"legend":null}}}
  ]}]},
{"title":{"text":"(c)","orient":"bottom","anchor":"middle","font":"Liberation Serif","fontSize":17,"fontWeight":"normal","offset":20,"dx":13},
 "vconcat":[{
  "title":{"text":"Forecasted Indian fertility rates (2016-2030)","anchor":"middle","offset":31},
  "width":452,"height":388,
  "layer":[
   {"data":{"name":"ig"},"mark":{"type":"line","color":"#cccccc","strokeWidth":1,"interpolate":"monotone"},
    "encoding":{"x":{"field":"a","type":"quantitative","scale":{"domain":[11.44,53.56],"nice":false,"zero":false},"axis":{"values":[20,30,40,50],"title":"Age"}},
     "y":{"field":"v","type":"quantitative","scale":{"domain":[-0.173,4.49],"nice":false,"zero":false},"axis":{"values":[0,1,2,3,4],"title":"TFR per woman","titlePadding":10}},
     "detail":{"field":"s","type":"nominal"}}},
   {"data":{"name":"ifc"},"mark":{"type":"line","strokeWidth":1.2,"interpolate":"monotone"},
    "encoding":{"x":{"field":"a","type":"quantitative"},"y":{"field":"v","type":"quantitative"},
     "color":{"field":"s","type":"ordinal","scale":{"domain":[1,2,3,4,5,6,7,8,9,10,11,12,13,14,15],"range":["#ff0000","#ff5500","#ffaa00","#ffff00","#aaff00","#55ff00","#00ff00","#00ff55","#00ffaa","#00ffff","#00aaff","#0055ff","#0000ff","#5500ff","#aa00ff"]},"legend":null}}}
  ]}]}
]}
